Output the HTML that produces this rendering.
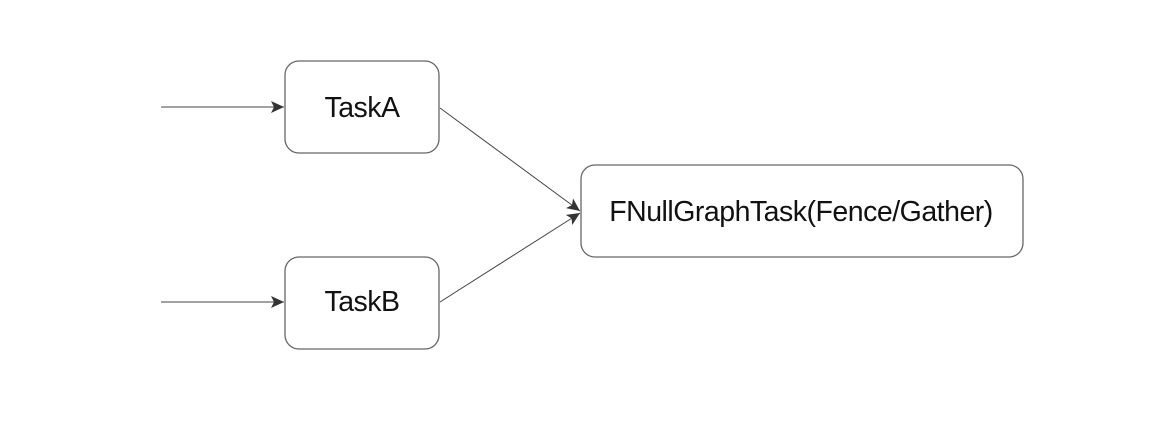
<!DOCTYPE html>
<html><head><style>
body{margin:0;background:#fff;}
svg{display:block;}
text{font-family:"Liberation Sans",sans-serif;font-size:28.5px;fill:#111;letter-spacing:-0.5px;}
</style></head><body>
<svg width="1172" height="428" viewBox="0 0 1172 428">
<defs><marker id="a" markerWidth="14" markerHeight="14" refX="13" refY="6" orient="auto" markerUnits="userSpaceOnUse"><path d="M0,0 L13,6 L0,12 L3,6 z" fill="#333"/></marker></defs>
<g stroke="#666" stroke-width="1.3" fill="#fff">
<rect x="285" y="61" width="154" height="92" rx="14"/>
<rect x="285" y="257" width="154" height="92" rx="14"/>
<rect x="581" y="165" width="442" height="92" rx="14"/>
</g>
<g stroke="#444" stroke-width="1" fill="none">
<line x1="161" y1="107" x2="284" y2="107" marker-end="url(#a)"/>
<line x1="161" y1="302" x2="284" y2="302" marker-end="url(#a)"/>
<line x1="440" y1="108" x2="580" y2="211" marker-end="url(#a)"/>
<line x1="440" y1="302" x2="580" y2="213" marker-end="url(#a)"/>
</g>
<text x="362" y="117" text-anchor="middle">TaskA</text>
<text x="362" y="311" text-anchor="middle">TaskB</text>
<text x="801" y="221" text-anchor="middle">FNullGraphTask(Fence/Gather)</text>
</svg>
</body></html>
